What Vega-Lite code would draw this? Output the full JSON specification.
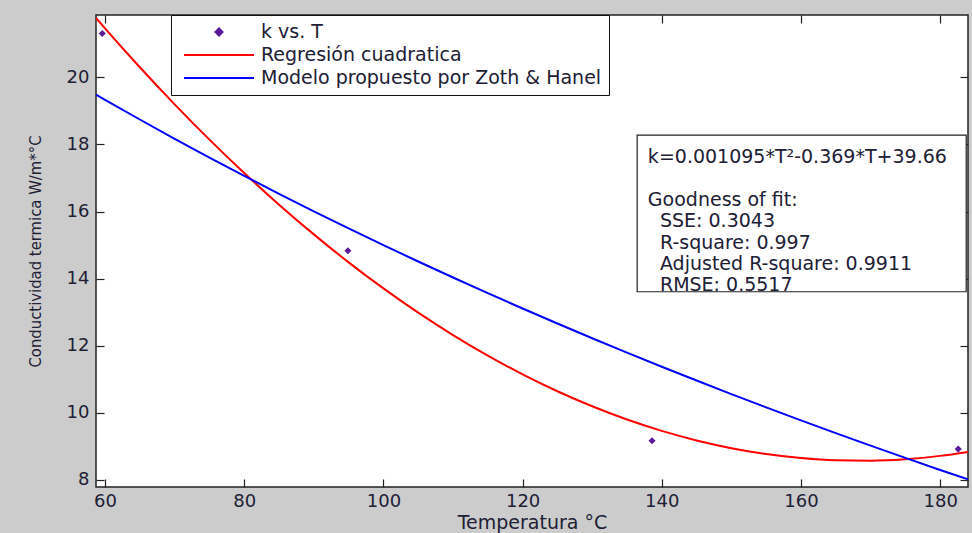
{
  "$schema": "https://vega.github.io/schema/vega-lite/v6.json",
  "width": 872,
  "height": 472,
  "autosize": "none",
  "padding": {"left": 96, "top": 15, "right": 4, "bottom": 46},
  "background": "#cccccc",
  "config": {
    "view": {"fill": "white", "stroke": "#222222", "strokeWidth": 1.5},
    "axis": {
      "grid": false,
      "domain": false,
      "tickColor": "#222222",
      "tickSize": -8,
      "tickWidth": 1.2,
      "labelFont": "DejaVu Sans",
      "labelFontSize": 18,
      "labelColor": "#202035",
      "titleFont": "DejaVu Sans",
      "titleFontSize": 19,
      "titleFontWeight": "normal",
      "titleColor": "#202035"
    },
    "legend": {
      "labelFont": "DejaVu Sans",
      "labelFontSize": 19,
      "labelColor": "#202035"
    }
  },
  "datasets": {
    "pts": [
      {"T": 59.6, "k": 21.31, "series": "k vs. T"},
      {"T": 94.9, "k": 14.83, "series": "k vs. T"},
      {"T": 138.6, "k": 9.17, "series": "k vs. T"},
      {"T": 182.6, "k": 8.92, "series": "k vs. T"}
    ],
    "fit": [
      {"T": 58.7, "k": 21.773, "series": "Regresión cuadratica"},
      {"T": 60, "k": 21.462, "series": "Regresión cuadratica"},
      {"T": 65, "k": 20.301, "series": "Regresión cuadratica"},
      {"T": 70, "k": 19.196, "series": "Regresión cuadratica"},
      {"T": 75, "k": 18.144, "series": "Regresión cuadratica"},
      {"T": 80, "k": 17.148, "series": "Regresión cuadratica"},
      {"T": 85, "k": 16.206, "series": "Regresión cuadratica"},
      {"T": 90, "k": 15.32, "series": "Regresión cuadratica"},
      {"T": 95, "k": 14.487, "series": "Regresión cuadratica"},
      {"T": 100, "k": 13.71, "series": "Regresión cuadratica"},
      {"T": 105, "k": 12.987, "series": "Regresión cuadratica"},
      {"T": 110, "k": 12.32, "series": "Regresión cuadratica"},
      {"T": 115, "k": 11.706, "series": "Regresión cuadratica"},
      {"T": 120, "k": 11.148, "series": "Regresión cuadratica"},
      {"T": 125, "k": 10.644, "series": "Regresión cuadratica"},
      {"T": 130, "k": 10.196, "series": "Regresión cuadratica"},
      {"T": 135, "k": 9.801, "series": "Regresión cuadratica"},
      {"T": 140, "k": 9.462, "series": "Regresión cuadratica"},
      {"T": 145, "k": 9.177, "series": "Regresión cuadratica"},
      {"T": 150, "k": 8.948, "series": "Regresión cuadratica"},
      {"T": 155, "k": 8.772, "series": "Regresión cuadratica"},
      {"T": 160, "k": 8.652, "series": "Regresión cuadratica"},
      {"T": 165, "k": 8.586, "series": "Regresión cuadratica"},
      {"T": 170, "k": 8.576, "series": "Regresión cuadratica"},
      {"T": 175, "k": 8.619, "series": "Regresión cuadratica"},
      {"T": 180, "k": 8.718, "series": "Regresión cuadratica"},
      {"T": 184, "k": 8.836, "series": "Regresión cuadratica"},
      {"T": 58.7, "k": 19.487, "series": "Modelo propuesto por Zoth & Hanel"},
      {"T": 60, "k": 19.332, "series": "Modelo propuesto por Zoth & Hanel"},
      {"T": 65, "k": 18.745, "series": "Modelo propuesto por Zoth & Hanel"},
      {"T": 70, "k": 18.171, "series": "Modelo propuesto por Zoth & Hanel"},
      {"T": 75, "k": 17.612, "series": "Modelo propuesto por Zoth & Hanel"},
      {"T": 80, "k": 17.065, "series": "Modelo propuesto por Zoth & Hanel"},
      {"T": 85, "k": 16.531, "series": "Modelo propuesto por Zoth & Hanel"},
      {"T": 90, "k": 16.009, "series": "Modelo propuesto por Zoth & Hanel"},
      {"T": 95, "k": 15.499, "series": "Modelo propuesto por Zoth & Hanel"},
      {"T": 100, "k": 15.0, "series": "Modelo propuesto por Zoth & Hanel"},
      {"T": 105, "k": 14.512, "series": "Modelo propuesto por Zoth & Hanel"},
      {"T": 110, "k": 14.035, "series": "Modelo propuesto por Zoth & Hanel"},
      {"T": 115, "k": 13.568, "series": "Modelo propuesto por Zoth & Hanel"},
      {"T": 120, "k": 13.111, "series": "Modelo propuesto por Zoth & Hanel"},
      {"T": 125, "k": 12.663, "series": "Modelo propuesto por Zoth & Hanel"},
      {"T": 130, "k": 12.225, "series": "Modelo propuesto por Zoth & Hanel"},
      {"T": 135, "k": 11.796, "series": "Modelo propuesto por Zoth & Hanel"},
      {"T": 140, "k": 11.376, "series": "Modelo propuesto por Zoth & Hanel"},
      {"T": 145, "k": 10.964, "series": "Modelo propuesto por Zoth & Hanel"},
      {"T": 150, "k": 10.56, "series": "Modelo propuesto por Zoth & Hanel"},
      {"T": 155, "k": 10.164, "series": "Modelo propuesto por Zoth & Hanel"},
      {"T": 160, "k": 9.776, "series": "Modelo propuesto por Zoth & Hanel"},
      {"T": 165, "k": 9.396, "series": "Modelo propuesto por Zoth & Hanel"},
      {"T": 170, "k": 9.023, "series": "Modelo propuesto por Zoth & Hanel"},
      {"T": 175, "k": 8.657, "series": "Modelo propuesto por Zoth & Hanel"},
      {"T": 180, "k": 8.298, "series": "Modelo propuesto por Zoth & Hanel"},
      {"T": 184, "k": 8.016, "series": "Modelo propuesto por Zoth & Hanel"}
    ],
    "box": [
      {"T1": 136.46, "T2": 183.74, "k1": 18.28, "k2": 13.61}
    ],
    "note": [
      {"T": 138.0, "k": 17.45, "text": "k=0.001095*T²-0.369*T+39.66\n\u200b\u00a0\nGoodness of fit:\n\u200b\u00a0\u00a0SSE: 0.3043\n\u200b\u00a0\u00a0R-square: 0.997\n\u200b\u00a0\u00a0Adjusted R-square: 0.9911\n\u200b\u00a0\u00a0RMSE: 0.5517"}
    ]
  },
  "layer": [
    {
      "data": {"name": "box"},
      "mark": {"type": "rect", "fill": "white", "stroke": "#222222", "strokeWidth": 1.2},
      "encoding": {
        "x": {"field": "T1", "type": "quantitative", "scale": {"domain": [58.7, 184], "nice": false, "zero": false}, "axis": null},
        "x2": {"field": "T2"},
        "y": {"field": "k1", "type": "quantitative", "scale": {"domain": [7.79, 21.86], "nice": false, "zero": false}, "axis": null},
        "y2": {"field": "k2"}
      }
    },
    {
      "data": {"name": "note"},
      "mark": {"type": "text", "align": "left", "baseline": "alphabetic", "font": "DejaVu Sans", "fontSize": 19, "lineHeight": 21.4, "lineBreak": "\n", "color": "#202035"},
      "encoding": {
        "x": {"field": "T", "type": "quantitative", "axis": null},
        "y": {"field": "k", "type": "quantitative", "axis": null},
        "text": {"field": "text"}
      }
    },
    {
      "data": {"name": "fit"},
      "mark": {"type": "line", "strokeWidth": 2, "interpolate": "monotone", "clip": true},
      "encoding": {
        "x": {"field": "T", "type": "quantitative", "axis": {"orient": "bottom", "values": [60, 80, 100, 120, 140, 160, 180], "title": "Temperatura °C", "labelPadding": 13, "titlePadding": 3}},
        "y": {"field": "k", "type": "quantitative", "axis": {"orient": "left", "values": [8, 10, 12, 14, 16, 18, 20], "title": "Conductividad termica W/m*°C", "titleFont": "Liberation Sans Narrow, DejaVu Sans Condensed, Liberation Sans", "titleFontSize": 16.5, "labelPadding": 15, "titlePadding": 23}},
        "color": {
          "field": "series",
          "type": "nominal",
          "scale": {"domain": ["k vs. T", "Regresión cuadratica", "Modelo propuesto por Zoth & Hanel"], "range": ["#5b1a99", "#ff0000", "#0000ff"]},
          "legend": {
            "title": null,
            "orient": "none",
            "legendX": 75,
            "legendY": 0,
            "padding": 7,
            "strokeColor": "#111111",
            "fillColor": "white",
            "symbolType": "stroke",
            "symbolSize": 4900,
            "symbolStrokeWidth": 2,
            "symbolOffset": 5,
            "labelOffset": 6,
            "labelLimit": 800,
            "clipHeight": 20,
            "rowPadding": 3,
            "encode": {
              "symbols": {
                "update": {
                  "shape": {"signal": "datum.value == 'k vs. T' ? 'diamond' : 'stroke'"},
                  "size": {"signal": "datum.value == 'k vs. T' ? 50 : 4900"},
                  "fill": {"signal": "datum.value == 'k vs. T' ? '#5b1a99' : 'transparent'"},
                  "stroke": {"signal": "datum.value == 'k vs. T' ? 'transparent' : (datum.value == 'Regresión cuadratica' ? '#ff0000' : '#0000ff')"},
                  "strokeWidth": {"value": 2}
                }
              }
            }
          }
        }
      }
    },
    {
      "data": {"name": "pts"},
      "mark": {"type": "point", "shape": "diamond", "filled": true, "size": 50, "opacity": 1},
      "encoding": {
        "x": {"field": "T", "type": "quantitative", "axis": {"orient": "top", "values": [60, 80, 100, 120, 140, 160, 180], "labels": false, "title": null}},
        "y": {"field": "k", "type": "quantitative", "axis": {"orient": "right", "values": [8, 10, 12, 14, 16, 18, 20], "labels": false, "title": null}},
        "color": {"field": "series", "type": "nominal"}
      }
    }
  ]
}
